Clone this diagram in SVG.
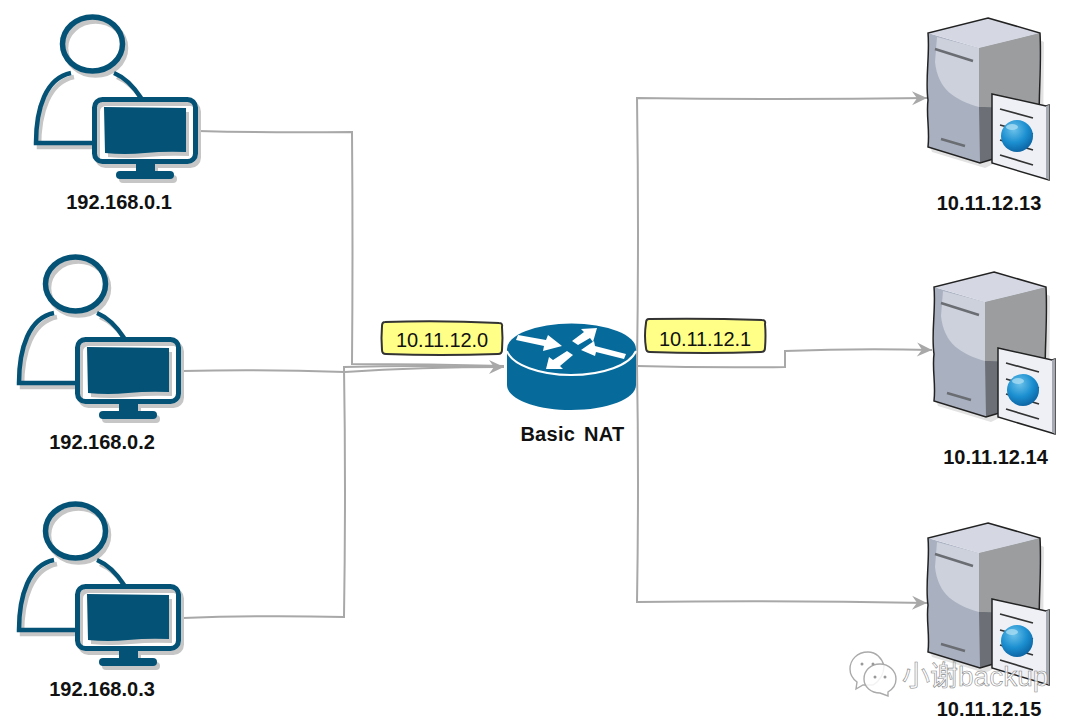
<svg xmlns="http://www.w3.org/2000/svg" width="1080" height="727" viewBox="0 0 1080 727">
<style>
text{font-family:"Liberation Sans",Arial,sans-serif;fill:#111}
.lbl{font-size:20px;font-weight:bold;text-anchor:middle}
.tag{font-size:20px;text-anchor:middle;letter-spacing:-.1px}
.yb{fill:#ffff88;stroke:#333;stroke-width:2;stroke-linejoin:round}
.wire{fill:none;stroke:#a8a8a8;stroke-width:2}
.wm{font-family:"Liberation Sans","Noto Sans CJK SC",sans-serif;font-size:28px;fill:#fff;fill-opacity:.75;stroke:#8a8a8a;stroke-width:.6}
.wi{fill:#fff;fill-opacity:.85;stroke:#aaa;stroke-width:1.4}
.wd{fill:#999}
</style>
<defs>
<marker id="ah" markerUnits="userSpaceOnUse" markerWidth="20" markerHeight="18" refX="16" refY="9" orient="auto"><path d="M1 2 L16 9 L1 16 L6 9Z" fill="#a8a8a8"/></marker>
<g id="userShape">
<ellipse cx="92.500" cy="44" rx="30" ry="27" fill="none" stroke="currentColor" stroke-width="5.500"/>
<path d="M71 73 C46 78 36 108 36 143 L94 143 M114 73 C126 78 134 87 141 98" fill="none" stroke="currentColor" stroke-width="4.500"/>
</g>
<g id="monShape">
<rect x="94.500" y="99.500" width="101" height="62" rx="8" fill="none" stroke="currentColor" stroke-width="5"/>
<path d="M104 107 L186 108 L186 152 Q165 151 145 153 Q125 155 105 153Z" fill="currentColor"/>
<rect x="136" y="163" width="19" height="10" fill="currentColor"/>
<rect x="116" y="171" width="58" height="8" rx="4" fill="currentColor"/>
</g>
<g id="user">
<use href="#userShape" x="3" y="4" style="color:#c6c6c6"/>
<use href="#userShape" style="color:#045275"/>
<rect x="93" y="98" width="104" height="64" rx="9" fill="#fff"/>
<use href="#monShape" x="3" y="4" style="color:#c6c6c6"/>
<use href="#monShape" style="color:#045275"/>
</g>
<radialGradient id="gl" cx=".4" cy=".3" r=".75"><stop offset="0" stop-color="#6cc2ea"/><stop offset=".55" stop-color="#1b8fd0"/><stop offset="1" stop-color="#0b5f9e"/></radialGradient>
<g id="server">
<path d="M1040 40 L1044 42 L1043 140 L985 168 L932 152 L930 146 L980 161 L1040 143Z" fill="#e2e2e2"/>
<path d="M928 147 L980 163 L1039 145 L1040 33 L979 48 L928 33Z" fill="#a9b0c0"/>
<path d="M928 33 L988 18 L1040 33 L979 48Z" fill="#d5d8e3"/>
<path d="M979 48 L1040 33 L1039 107 C1020 112 1000 106 979 107Z" fill="#9b9d9f"/>
<path d="M979 107 C1000 106 1020 112 1039 107 L1039 145 L980 163Z" fill="#6c7076"/>
<path d="M937 37 L979 48 L979 107 C955 100 938 90 935 62Z" fill="#cdd1dc"/>
<path d="M988 18 L1040 33 C1042 70 1037 110 1040 145 L980 163 L928 147 C930 130 926 115 928 100 C925 80 930 55 928 33Z" fill="none" stroke="#222" stroke-width="1.500"/>
<path d="M935 49 L973 61 M941 139 L965 146" stroke="#6a6d72" stroke-width="2.500" fill="none"/>
<path d="M992 94 L1046 106 L1049 105 L1049 180 L992 163Z" fill="#eef0f5" stroke="#222" stroke-width="1.500"/>
<path d="M1046 106 L1046 178 L1049 180 L1049 105Z" fill="#a5a9b2"/>
<path d="M1000 109 L1033 118 M1000 125 L1033 134 M1000 140 L1033 150 M1000 155 L1033 165" stroke="#333" stroke-width="1.700" fill="none"/>
<circle cx="1017" cy="136" r="16" fill="url(#gl)"/>
<ellipse cx="1012" cy="127" rx="6" ry="3" fill="#a8dcf3" opacity=".8"/>
</g>
</defs>
<g id="connectors">
<path class="wire" d="M198 131 Q270 133 352 132 Q353 250 352 364 Q430 364 504 366"/>
<path class="wire" d="M183 371 Q260 369 345 372 Q420 367 504 367" marker-end="url(#ah)"/>
<path class="wire" d="M183 618 Q260 615 344 617 Q346 490 344 367 Q420 365 504 367"/>
<path class="wire" d="M637 366 Q639 230 637 98 Q780 100 927 98" marker-end="url(#ah)"/>
<path class="wire" d="M637 366 Q710 368 785 367 L785 351 Q860 348 932 350" marker-end="url(#ah)"/>
<path class="wire" d="M637 366 Q639 480 637 602 Q780 600 927 603" marker-end="url(#ah)"/>
</g>
<g id="user1"><use href="#user"/><text class="lbl" x="119" y="209">192.168.0.1</text></g>
<g id="user2"><use href="#user" x="-17" y="240"/><text class="lbl" x="102" y="449">192.168.0.2</text></g>
<g id="user3"><use href="#user" x="-17" y="487"/><text class="lbl" x="102" y="696">192.168.0.3</text></g>
<g id="server1"><use href="#server"/><text class="lbl" x="989" y="210">10.11.12.13</text></g>
<g id="server2"><use href="#server" x="6" y="254"/><text class="lbl" x="995.500" y="464">10.11.12.14</text></g>
<g id="server3"><use href="#server" y="505"/><text class="lbl" x="989" y="716">10.11.12.15</text></g>
<g id="router">
<path d="M507 349 L507 385 C507 399 536 410 571 410 C607 410 636 399 636 385 L636 349Z" fill="#066a9b"/>
<ellipse cx="571.500" cy="349" rx="64.500" ry="25.500" fill="#066a9b"/>
<path d="M507 351 C512 365 540 375 571 375 C603 375 630 365 636 351" fill="none" stroke="#fff" stroke-width="2"/>
<path d="M516 340 L518 335 L546 340 L548 335 L562 346 L543 351 L544 346Z" fill="#fff"/>
<path d="M572 341 L584 332 L581 329 L597 328 L593 342 L590 338 L578 345Z" fill="#fff"/>
<path d="M626 354 L624 359 L596 352 L595 356 L581 350 L594 341 L595 346Z" fill="#fff"/>
<path d="M573 355 L560 366 L563 369 L546 369 L549 357 L553 360 L567 351Z" fill="#fff"/>
</g>
<text class="lbl" x="572.500" y="441" id="routerLabel" style="word-spacing:3px;letter-spacing:.3px">Basic NAT</text>
<g id="tag1"><path class="yb" d="M385 322 Q440 320 499 323 Q503 323 502 327 Q503 338 502 350 Q502 354 498 354 Q440 356 386 354 Q382 354 382 350 Q381 338 382 326 Q382 322 385 322Z"/><text class="tag" x="442" y="347">10.11.12.0</text></g>
<g id="tag2"><path class="yb" d="M649 319 Q705 318 762 320 Q766 320 765 324 Q766 335 765 348 Q765 352 761 352 Q705 354 650 352 Q646 352 646 348 Q644 336 646 323 Q646 319 649 319Z"/><text class="tag" x="705" y="346">10.11.12.1</text></g>
<g id="watermark">
<path d="M868 652 C857 652 850 660 850 669 C850 675 853 679 857 682 L856 689 L863 685 L873 685 C881 680 884 672 884 666 C882 658 876 652 868 652Z" class="wi"/>
<path d="M880 664 C870 664 864 671 864 679 C864 687 871 693 880 693 L888 696 L888 692 C893 689 896 684 896 679 C896 671 889 664 880 664Z" class="wi"/>
<circle cx="862" cy="664" r="1.500" class="wd"/><circle cx="873" cy="664" r="1.500" class="wd"/><circle cx="875" cy="677" r="1.500" class="wd"/><circle cx="885" cy="677" r="1.500" class="wd"/>
<text class="wm" x="902" y="686">小谢backup</text>
</g>
</svg>
